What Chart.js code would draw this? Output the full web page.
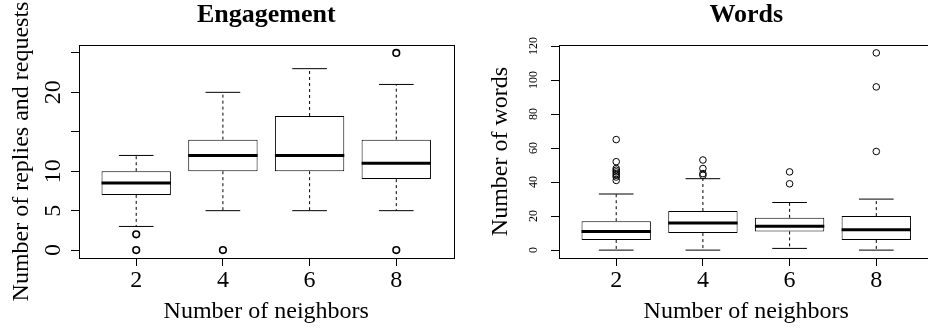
<!DOCTYPE html>
<html>
<head>
<meta charset="utf-8">
<script src="https://cdn.jsdelivr.net/npm/chart.js@4/dist/chart.umd.min.js"></script>
<style>
  html, body { margin: 0; padding: 0; background: #fff; }
  #wrap { position: relative; width: 928px; height: 330px; overflow: hidden; }
  .panel { position: absolute; top: 0; height: 330px; overflow: hidden; }
  #leftPanel { left: 0; width: 464px; }
  #rightPanel { left: 464px; width: 464px; }
  canvas { display: block; }
</style>
</head>
<body>
<div id="wrap">
  <div class="panel" id="leftPanel"><canvas id="engagementChart" width="464" height="330"></canvas></div>
  <div class="panel" id="rightPanel"><canvas id="wordsChart" width="480" height="330"></canvas></div>
</div>
<script>
"use strict";

// categories
const neighbors = ['2', '4', '6', '8'];

// Engagement (replies and requests)
const engLowWhisker = [3, 5, 5, 5];
const engQ1 = [7, 10, 10, 9];
const engMedian = [8.5, 12, 12, 11];
const engQ3 = [10, 14, 17, 14];
const engHighWhisker = [12, 20, 23, 21];
const engOutliers = [[0, 2], [0], [], [0, 25]];
const engTicks = [0, 5, 10, 15, 20, 25];
const engTickLabels = ['0', '5', '10', '', '20', ''];

// Words
const wordLowWhisker = [0, 0, 1, 0];
const wordQ1 = [6, 10, 11, 6];
const wordMedian = [11, 16, 14, 12];
const wordQ3 = [17, 23, 19, 20];
const wordHighWhisker = [33, 42, 28, 30];
const wordOutliers = [[41, 43, 44, 45, 46, 47, 48, 52, 65], [44, 45, 48, 53], [39, 46], [58, 96, 116]];
const wordTicks = [0, 20, 40, 60, 80, 100, 120];
const wordTickLabels = ['0', '20', '40', '60', '80', '100', '120'];

const SERIF = '"Liberation Serif", "Times New Roman", serif';

// whiskers, medians, frame and all the text, placed with the chart's scales
const boxplotExtras = {
    id: 'boxplotExtras',
    afterDatasetsDraw: function(chart) {
        const o = chart.options.plugins.boxplotExtras;
        const x = chart.scales.x, y = chart.scales.y;
        const ctx = chart.ctx;
        ctx.save();
        ctx.strokeStyle = '#000';
        for (let i = 0; i < o.median.length; i++) {
            const pos = i + 1;
            const cx = x.getPixelForValue(pos);
            const capL = x.getPixelForValue(pos - 0.2), capR = x.getPixelForValue(pos + 0.2);
            const yLo = y.getPixelForValue(o.low[i]), yHi = y.getPixelForValue(o.high[i]);
            const yQ1 = y.getPixelForValue(o.q1[i]), yQ3 = y.getPixelForValue(o.q3[i]);
            ctx.lineWidth = 1;
            ctx.setLineDash([3, 3]);
            ctx.beginPath();
            ctx.moveTo(cx, yQ3); ctx.lineTo(cx, yHi);
            ctx.moveTo(cx, yQ1); ctx.lineTo(cx, yLo);
            ctx.stroke();
            ctx.setLineDash([]);
            ctx.beginPath();
            ctx.moveTo(capL, yHi); ctx.lineTo(capR, yHi);
            ctx.moveTo(capL, yLo); ctx.lineTo(capR, yLo);
            ctx.stroke();
            const ym = y.getPixelForValue(o.median[i]);
            ctx.lineWidth = 3;
            ctx.beginPath();
            ctx.moveTo(x.getPixelForValue(pos - 0.4), ym);
            ctx.lineTo(x.getPixelForValue(pos + 0.4), ym);
            ctx.stroke();
        }
        ctx.restore();
    },
    afterDraw: function(chart) {
        const o = chart.options.plugins.boxplotExtras;
        const area = chart.chartArea;
        const x = chart.scales.x, y = chart.scales.y;
        const ctx = chart.ctx;
        const midX = (area.left + area.right) / 2;
        const midY = (area.top + area.bottom) / 2;
        ctx.save();
        ctx.strokeStyle = '#000';
        ctx.lineWidth = 1;
        ctx.strokeRect(Math.round(area.left) + 0.5, Math.round(area.top) + 0.5,
            Math.round(area.right - area.left), Math.round(area.bottom - area.top));

        ctx.fillStyle = '#000';
        ctx.textAlign = 'center';
        ctx.textBaseline = 'alphabetic';
        ctx.font = 'bold 26px ' + SERIF;
        ctx.fillText(o.title, midX, 22);

        ctx.font = '24px ' + SERIF;
        neighbors.forEach((lab, i) => ctx.fillText(lab, x.getPixelForValue(i + 1), 287));
        ctx.fillText('Number of neighbors', midX, 318);

        ctx.save();
        ctx.translate(o.yTitleX, midY);
        ctx.rotate(-Math.PI / 2);
        ctx.fillText(o.yTitle, 0, 0);
        ctx.restore();

        ctx.font = o.tickFont + 'px ' + SERIF;
        o.ticks.forEach((v, i) => {
            if (!o.tickLabels[i]) return;
            ctx.save();
            ctx.translate(o.tickLabelX, y.getPixelForValue(v));
            ctx.rotate(-Math.PI / 2);
            ctx.fillText(o.tickLabels[i], 0, 0);
            ctx.restore();
        });
        ctx.restore();
    }
};

function makePanel(canvasId, p) {
    const boxes = p.q1.map((q, i) => ({x: i + 1, y: [q, p.q3[i]]}));
    const points = p.outliers.flatMap((vals, i) => vals.map(v => ({x: i + 1, y: v})));
    return new Chart(document.getElementById(canvasId), {
        type: 'bar',
        data: {
            datasets: [{
                data: boxes,
                backgroundColor: '#fff',
                borderColor: '#000',
                borderWidth: 1,
                borderSkipped: false,
                barPercentage: 0.8,
                categoryPercentage: 1
            }, {
                type: 'scatter',
                data: points,
                showLine: false,
                pointStyle: 'circle',
                pointRadius: 3.3,
                backgroundColor: 'rgba(0,0,0,0)',
                borderColor: '#000',
                borderWidth: p.pointBorder
            }]
        },
        plugins: [boxplotExtras],
        options: {
            responsive: false,
            animation: false,
            events: [],
            layout: {padding: {left: 0, top: 45, right: 10.5, bottom: 0}},
            plugins: {
                legend: {display: false},
                title: {display: false},
                tooltip: {enabled: false},
                boxplotExtras: {
                    title: p.title, yTitle: p.yTitle, yTitleX: p.yTitleX,
                    ticks: p.ticks, tickLabels: p.tickLabels,
                    tickFont: p.tickFont, tickLabelX: p.tickLabelX,
                    low: p.low, q1: p.q1, median: p.median, q3: p.q3, high: p.high
                }
            },
            scales: {
                x: {
                    type: 'linear',
                    min: 0.34, max: 4.66,
                    offset: false,
                    border: {display: false},
                    grid: {drawOnChartArea: false, drawTicks: true, tickLength: 8, color: '#000', offset: false},
                    ticks: {display: false},
                    afterBuildTicks: function(scale) {
                        scale.ticks = neighbors.map((n, i) => ({value: i + 1}));
                    },
                    afterFit: function(scale) { scale.height = 72; }
                },
                y: {
                    type: 'linear',
                    min: p.yMin, max: p.yMax,
                    border: {display: false},
                    grid: {drawOnChartArea: false, drawTicks: true, tickLength: 8, color: '#000'},
                    ticks: {display: false},
                    afterBuildTicks: function(scale) {
                        scale.ticks = p.ticks.map(v => ({value: v}));
                    },
                    afterFit: function(scale) { scale.width = p.axisWidth; }
                }
            }
        }
    });
}

makePanel('engagementChart', {
    title: 'Engagement', yTitle: 'Number of replies and requests', yTitleX: 28,
    low: engLowWhisker, q1: engQ1, median: engMedian, q3: engQ3, high: engHighWhisker,
    outliers: engOutliers, ticks: engTicks, tickLabels: engTickLabels,
    tickFont: 24, tickLabelX: 59.5, yMin: -1, yMax: 26, axisWidth: 79, pointBorder: 1.6
});

makePanel('wordsChart', {
    title: 'Words', yTitle: 'Number of words', yTitleX: 43,
    low: wordLowWhisker, q1: wordQ1, median: wordMedian, q3: wordQ3, high: wordHighWhisker,
    outliers: wordOutliers, ticks: wordTicks, tickLabels: wordTickLabels,
    tickFont: 12, tickLabelX: 73, yMin: -4.64, yMax: 120.64, axisWidth: 95, pointBorder: 1
});
</script>
</body>
</html>
